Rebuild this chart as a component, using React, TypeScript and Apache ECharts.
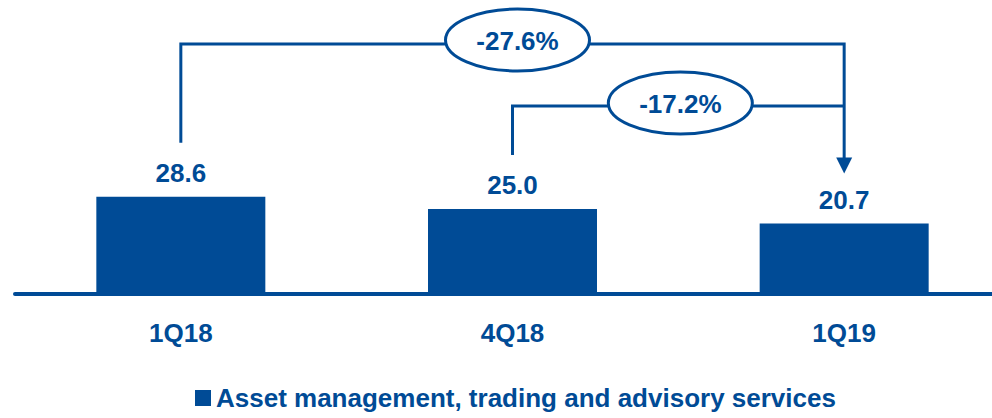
import React, { useEffect, useRef } from "react";
import * as echarts from "echarts";

const categories = ["1Q18", "4Q18", "1Q19"];
const values = [28.6, 25.0, 20.7];
const seriesName = "Asset management, trading and advisory services";

const BLUE = "#004B96";
const FONT = "'Liberation Sans', Arial, sans-serif";

function pct(from: number, to: number) {
  return ((to / from - 1) * 100).toFixed(1) + "%";
}

export default function App() {
  const ref = useRef<HTMLDivElement>(null);
  useEffect(() => {
    const chart = echarts.init(ref.current!, null, { renderer: "svg" });
    chart.setOption({
      animation: false,
      backgroundColor: "#ffffff",
      grid: { left: 15, right: 0, top: 22, height: 272 },
      legend: {
        left: 190,
        top: 380,
        icon: "rect",
        itemWidth: 16,
        itemHeight: 16,
        itemGap: 8,
        textStyle: { color: BLUE, fontFamily: FONT, fontWeight: "bold", fontSize: 26 },
        data: [seriesName],
      },
      xAxis: {
        type: "category",
        data: categories,
        axisLine: { lineStyle: { color: BLUE, width: 4 } },
        axisTick: { show: false },
        axisLabel: { color: BLUE, fontFamily: FONT, fontWeight: "bold", fontSize: 26, margin: 26 },
      },
      yAxis: { type: "value", min: 0, max: 80, show: false, splitLine: { show: false } },
      series: [
        {
          name: seriesName,
          type: "bar",
          data: values,
          barWidth: 169,
          itemStyle: { color: BLUE },
          label: {
            show: true,
            position: "top",
            distance: 11,
            color: BLUE,
            fontFamily: FONT,
            fontWeight: "bold",
            fontSize: 26,
            formatter: (p: any) => Number(p.value).toFixed(1),
          },
        },
      ],
    });

    const pts = values.map((v, i) => chart.convertToPixel({ gridIndex: 0 }, [i, v]) as number[]);
    const [x0, y0] = pts[0];
    const [x1, y1] = pts[1];
    const [x2, y2] = pts[2];
    const topY1 = 44;
    const topY2 = 106;
    const tipY = y2 - 50;
    const lineStyle = { stroke: BLUE, lineWidth: 3, fill: null };
    const e1x = (x0 + x2) / 2 + 5;
    const e2x = (x1 + x2) / 2 + 2;
    const bubble = (cx: number, cy: number, text: string) => [
      {
        type: "ellipse",
        shape: { cx, cy, rx: 72, ry: 31 },
        style: { fill: "#ffffff", stroke: BLUE, lineWidth: 3 },
        z: 10,
      },
      {
        type: "text",
        x: cx,
        y: cy + 1,
        style: {
          text,
          fill: BLUE,
          font: `bold 26px ${FONT}`,
          align: "center",
          verticalAlign: "middle",
        },
        z: 11,
      },
    ];
    chart.setOption({
      graphic: [
        {
          type: "polyline",
          shape: { points: [[x0, y0 - 54], [x0, topY1], [x2, topY1], [x2, tipY - 14]] },
          style: lineStyle,
        },
        {
          type: "polyline",
          shape: { points: [[x1, y1 - 54], [x1, topY2], [x2, topY2]] },
          style: lineStyle,
        },
        {
          type: "polygon",
          shape: { points: [[x2 - 8, tipY - 16], [x2 + 8, tipY - 16], [x2, tipY]] },
          style: { fill: BLUE },
        },
        ...bubble(e1x, 40, pct(values[0], values[2])),
        ...bubble(e2x, 103, pct(values[1], values[2])),
      ],
    });
    return () => chart.dispose();
  }, []);
  return (
    <div
      ref={ref}
      style={{ position: "fixed", left: 0, top: 0, width: 1010, height: 418, background: "#fff" }}
    />
  );
}
